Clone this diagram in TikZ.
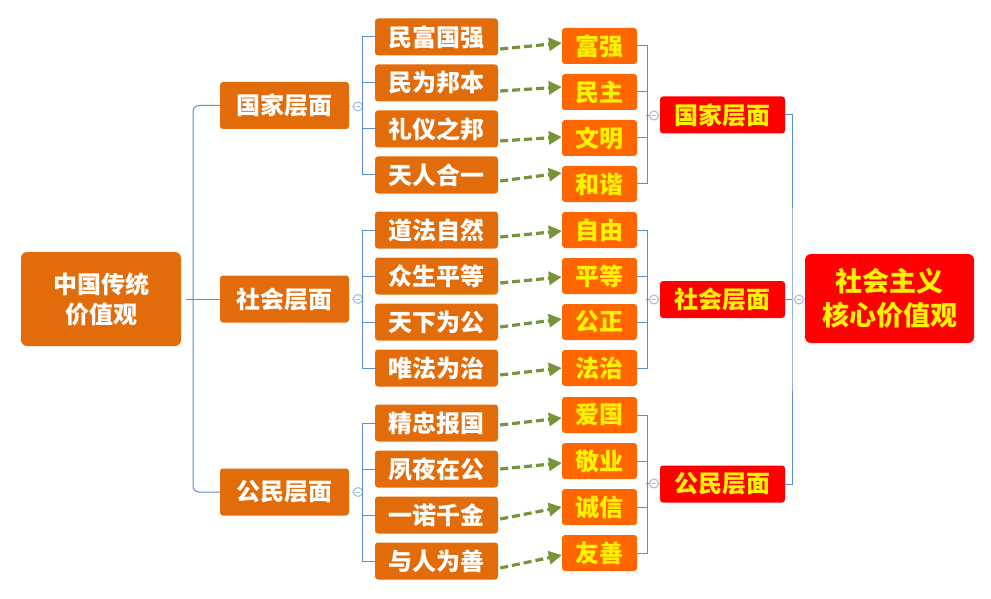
\documentclass[tikz,border=0pt]{standalone}
\usepackage{fontspec}
\newfontfamily\cjk{Noto Sans CJK SC}
\usetikzlibrary{arrows.meta,calc}
\definecolor{brn}{RGB}{227,108,10}
\definecolor{org}{RGB}{255,102,0}
\definecolor{ln}{RGB}{91,142,214}
\definecolor{olv}{RGB}{119,147,60}
\definecolor{cir}{RGB}{160,185,228}
\tikzset{
  base/.style={rounded corners=3pt, inner sep=0pt, align=center, font=\cjk\bfseries\fontsize{24}{30}\selectfont},
  rootbox/.style={base, fill=brn, text=white, minimum width=160pt, minimum height=94pt, rounded corners=6pt},
  lvone/.style={base, fill=brn, text=white, minimum width=129pt, minimum height=47pt},
  lvtwo/.style={base, fill=brn, text=white, minimum width=123pt, minimum height=37pt},
  lvthree/.style={base, fill=org, text=yellow, minimum width=75pt, minimum height=36pt},
  redbox/.style={base, fill=red, text=yellow, minimum width=125pt, minimum height=37pt},
  finalbox/.style={base, fill=red, text=yellow, minimum width=169pt, minimum height=89pt, rounded corners=6pt, font=\cjk\bfseries\fontsize{27}{34}\selectfont},
  conn/.style={draw=ln, line width=1pt},
  dots/.style={draw=cir, dotted, line width=1pt},
  fold/.style={circle, draw=cir, fill=white, minimum size=9pt, inner sep=0pt, line width=1pt,
    path picture={\draw[cir, line width=1pt] ($(path picture bounding box.west)+(2.2pt,0)$) -- ($(path picture bounding box.east)+(-2.2pt,0)$);}},
  arr/.style={draw=olv, line width=3.2pt, dash pattern=on 8pt off 4pt, -{Triangle[length=13pt,width=13pt]}}
}
\begin{document}
\begin{tikzpicture}[x=1pt,y=-1pt]
\path[fill=white] (0,0) rectangle (991,599);
\useasboundingbox (0,0) rectangle (991,599);

% root and level one
\node[rootbox] (root) at (101,299) {中国传统\\价值观};
\node[lvone] (g1) at (284.5,105.5) {国家层面};
\node[lvone] (g2) at (284.5,299) {社会层面};
\node[lvone] (g3) at (284.5,492) {公民层面};
\coordinate (tl) at (193,299);
\draw[conn, rounded corners=6pt] (g1.west) -| (tl) |- (g3.west);
\draw[conn] ($(root.east)+(5,0)$) -- (g2.west);

% level two
\node[lvtwo] (a1) at (436.5,37) {民富国强};
\node[lvtwo] (a2) at (436.5,83) {民为邦本};
\node[lvtwo] (a3) at (436.5,129) {礼仪之邦};
\node[lvtwo] (a4) at (436.5,175) {天人合一};
\node[lvtwo] (a5) at (436.5,230) {道法自然};
\node[lvtwo] (a6) at (436.5,276) {众生平等};
\node[lvtwo] (a7) at (436.5,322) {天下为公};
\node[lvtwo] (a8) at (436.5,368) {唯法为治};
\node[lvtwo] (a9) at (436.5,423) {精忠报国};
\node[lvtwo] (a10) at (436.5,469) {夙夜在公};
\node[lvtwo] (a11) at (436.5,515) {一诺千金};
\node[lvtwo] (a12) at (436.5,561) {与人为善};

% level three
\node[lvthree] (b1) at (599.5,46) {富强};
\node[lvthree] (b2) at (599.5,92) {民主};
\node[lvthree] (b3) at (599.5,138) {文明};
\node[lvthree] (b4) at (599.5,184) {和谐};
\node[lvthree] (b5) at (599.5,230) {自由};
\node[lvthree] (b6) at (599.5,276) {平等};
\node[lvthree] (b7) at (599.5,322) {公正};
\node[lvthree] (b8) at (599.5,368) {法治};
\node[lvthree] (b9) at (599.5,415) {爱国};
\node[lvthree] (b10) at (599.5,461) {敬业};
\node[lvthree] (b11) at (599.5,507) {诚信};
\node[lvthree] (b12) at (599.5,553) {友善};

% red level
\node[redbox] (r1) at (722.5,115) {国家层面};
\node[redbox] (r2) at (722.5,299.5) {社会层面};
\node[redbox] (r3) at (722.5,484) {公民层面};
\node[finalbox] (fin) at (889.5,298.5) {社会主义\\核心价值观};

% left brackets with fold markers
\foreach \g/\y in {g1/106.5, g2/299, g3/492}{
  \node[fold] (f\g) at (358,\y) {};
  \draw[dots] (\g.east) -- (f\g.west);
}
\draw[conn] (a1.west) -- ++(-12,0) |- (a4.west);
\draw[conn] (a2.west) -- ++(-12,0) (a3.west) -- ++(-12,0);
\draw[conn] (a5.west) -- ++(-12,0) |- (a8.west);
\draw[conn] (a6.west) -- ++(-12,0) (a7.west) -- ++(-12,0);
\draw[conn] (a9.west) -- ++(-12,0) |- (a12.west);
\draw[conn] (a10.west) -- ++(-12,0) (a11.west) -- ++(-12,0);

% right brackets with fold markers
\draw[conn] (b1.east) -- ++(10,0) |- (b4.east);
\draw[conn] (b2.east) -- ++(10,0) (b3.east) -- ++(10,0);
\draw[conn] (b5.east) -- ++(10,0) |- (b8.east);
\draw[conn] (b6.east) -- ++(10,0) (b7.east) -- ++(10,0);
\draw[conn] (b9.east) -- ++(10,0) |- (b12.east);
\draw[conn] (b10.east) -- ++(10,0) (b11.east) -- ++(10,0);
\foreach \r/\y in {r1/115.5, r2/299.5, r3/483.5}{
  \node[fold] (h\r) at (654,\y) {};
  \draw[conn] (h\r.west) -- ++(-3,0);
  \draw[dots] (h\r.east) -- (\r.west);
}

% final trunk
\coordinate (tr) at (792,299.5);
\draw[conn] (r1.east) -| (tr) |- (r3.east);
\draw[conn] (r2.east) -- (tr);
\node[fold] (hf) at (799,299.5) {};
\draw[dots] (hf.east) -- (fin.west);

% dashed arrows
\foreach \i/\s/\e in {1/12/-3, 2/8/-5, 3/12/-1, 4/6/-11, 5/7/1, 6/7/1, 7/5/-3, 8/7/0, 9/2/3, 10/0/2, 11/4/0, 12/7/2}{
  \draw[arr] ($(a\i.east)+(2,\s)$) -- ($(b\i.west)+(0,\e)$);
}
\end{tikzpicture}
\end{document}
